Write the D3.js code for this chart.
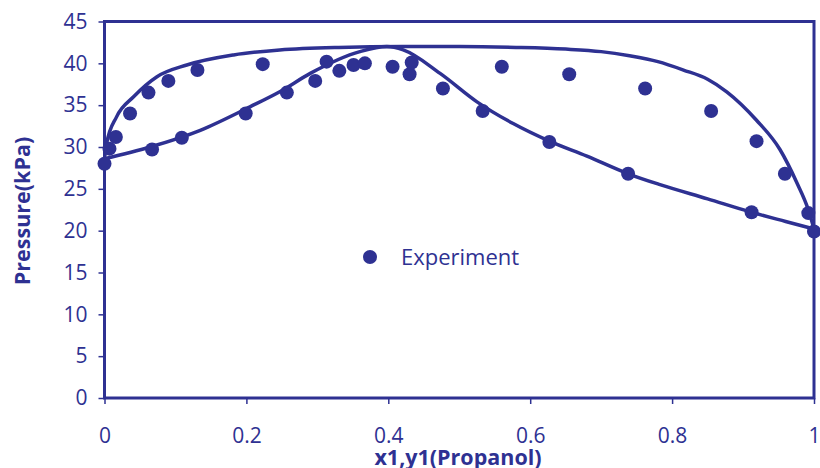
<!DOCTYPE html>
<html>
<head>
<meta charset="utf-8">
<script src="https://cdn.jsdelivr.net/npm/d3@7"></script>
<style>
  body { margin: 0; background: #fff; }
  text { font-family: "Open Sans", "Noto Sans", sans-serif; fill: #2e3192; }
</style>
</head>
<body>
<div id="chart"></div>
<script>
// experiment points (x1 or y1, pressure kPa)
let expX = [0, 0.007, 0.016, 0.036, 0.062, 0.090, 0.131, 0.067, 0.109, 0.199, 0.223, 0.257, 0.297, 0.313,
    0.331, 0.351, 0.367, 0.406, 0.430, 0.433, 0.477, 0.533, 0.560, 0.627, 0.655, 0.738, 0.762, 0.855,
    0.919, 0.959, 0.912, 0.992, 1.0]
let expP = [28.0, 29.8, 31.2, 34.0, 36.5, 37.9, 39.2, 29.7, 31.1, 34.0, 39.9, 36.5, 37.9, 40.2,
    39.1, 39.8, 40.0, 39.6, 38.7, 40.1, 37.0, 34.3, 39.6, 30.6, 38.7, 26.8, 37.0, 34.3,
    30.7, 26.8, 22.2, 22.1, 19.9]

// upper model curve
let upX = [0, 0.003, 0.017, 0.041, 0.074, 0.116, 0.182, 0.247, 0.33, 0.42, 0.5, 0.58, 0.65, 0.70,
    0.74, 0.78, 0.816, 0.85, 0.877, 0.919, 0.952, 0.976, 0.992, 1.0]
let upP = [28.6, 30.4, 33.6, 36.0, 38.4, 39.8, 41.0, 41.6, 41.9, 42.0, 42.0, 41.9, 41.7, 41.4,
    40.9, 40.2, 39.2, 38.1, 36.6, 33.2, 29.7, 25.7, 22.5, 20.2]

// lower model curve
let lowX = [0, 0.064, 0.135, 0.205, 0.247, 0.29, 0.36, 0.398, 0.421, 0.473, 0.525, 0.576, 0.627,
    0.68, 0.738, 0.783, 0.85, 0.912, 0.96, 1.0]
let lowP = [28.6, 30.0, 32.0, 34.8, 36.6, 38.8, 41.4, 42.0, 41.6, 38.8, 35.4, 32.8, 30.7,
    28.9, 26.8, 25.5, 23.8, 22.2, 21.1, 20.2]

let xTicks = [0, 0.2, 0.4, 0.6, 0.8, 1]
let yTicks = [0, 5, 10, 15, 20, 25, 30, 35, 40, 45]

const color = '#2e3192'
var width = 820, height = 468
var margin = { top: 21.5, right: 6, bottom: 70, left: 104.5 }
var w = width - margin.left - margin.right
var h = height - margin.top - margin.bottom

var svg = d3.select('#chart').append('svg')
    .attr('width', width)
    .attr('height', height)

var g = svg.append('g')
    .attr('transform', 'translate(' + margin.left + ',' + margin.top + ')')

var x = d3.scaleLinear().domain([0, 1]).range([0, w])
var y = d3.scaleLinear().domain([0, 45]).range([h, 0])

// plot border
g.append('rect')
    .attr('width', w)
    .attr('height', h)
    .attr('fill', 'none')
    .attr('stroke', color)
    .attr('stroke-width', 3)

// y axis
var yAxis = g.append('g')
    .call(d3.axisLeft(y).tickValues(yTicks).tickSize(6).tickPadding(11))
yAxis.select('.domain').remove()
yAxis.selectAll('line').attr('stroke', color).attr('stroke-width', 1.5)
yAxis.selectAll('text').style('font-size', '21px').attr('fill', color)

// x axis
var xAxis = g.append('g')
    .attr('transform', 'translate(0,' + h + ')')
    .call(d3.axisBottom(x).tickValues(xTicks).tickFormat(d3.format('')).tickSize(6).tickPadding(24))
xAxis.select('.domain').remove()
xAxis.selectAll('line').attr('stroke', color).attr('stroke-width', 1.5)
xAxis.selectAll('text').style('font-size', '21px').attr('fill', color)

// curves
var line = d3.line()
    .x(d => x(d[0]))
    .y(d => y(d[1]))
    .curve(d3.curveMonotoneX)

g.append('path')
    .datum(upX.map((v, i) => [v, upP[i]]))
    .attr('d', line)
    .attr('fill', 'none')
    .attr('stroke', color)
    .attr('stroke-width', 3.5)

g.append('path')
    .datum(lowX.map((v, i) => [v, lowP[i]]))
    .attr('d', line)
    .attr('fill', 'none')
    .attr('stroke', color)
    .attr('stroke-width', 3.5)

// experiment dots
g.selectAll('circle.exp')
    .data(expX.map((v, i) => [v, expP[i]]))
    .enter()
    .append('circle')
    .attr('class', 'exp')
    .attr('cx', d => x(d[0]))
    .attr('cy', d => y(d[1]))
    .attr('r', 7)
    .attr('fill', color)

// legend
var legend = svg.append('g').attr('transform', 'translate(370,257)')
legend.append('circle').attr('r', 7).attr('fill', color)
legend.append('text')
    .attr('x', 31)
    .attr('y', 8)
    .style('font-size', '22px')
    .text('Experiment')

// axis titles
svg.append('text')
    .attr('x', 458)
    .attr('y', 465)
    .attr('text-anchor', 'middle')
    .style('font-size', '21.5px')
    .style('font-weight', 'bold')
    .text('x1,y1(Propanol)')

svg.append('text')
    .attr('transform', 'translate(30,211) rotate(-90)')
    .attr('text-anchor', 'middle')
    .style('font-size', '21.5px')
    .style('font-weight', 'bold')
    .text('Pressure(kPa)')
</script>
</body>
</html>
